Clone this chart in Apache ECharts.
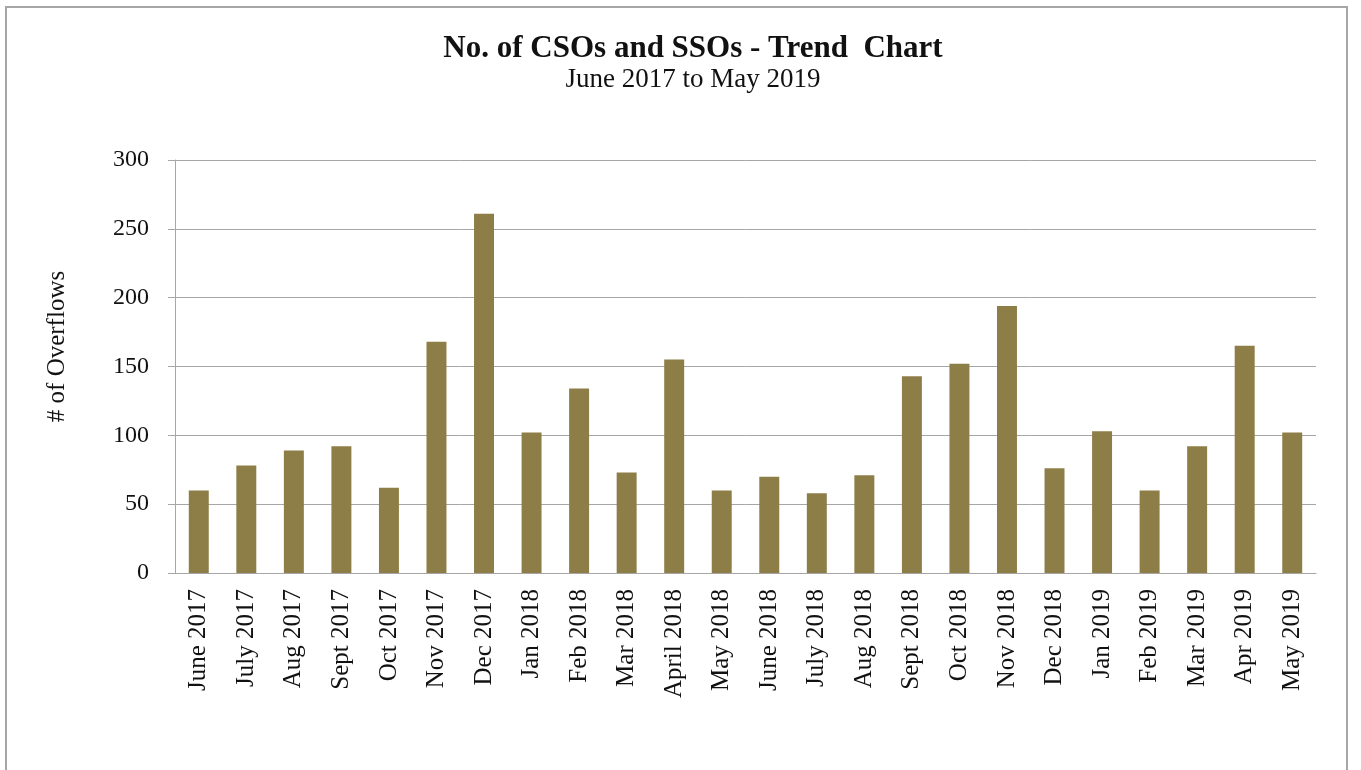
<!DOCTYPE html>
<html>
<head>
<meta charset="utf-8">
<script src="https://cdn.jsdelivr.net/npm/echarts@6/dist/echarts.min.js"></script>
<style>
  html, body { margin: 0; padding: 0; background: #fff; }
  .frame {
    position: absolute; left: 5px; top: 6px; width: 1343px; height: 800px;
    border: 2px solid #a6a6a6; border-bottom: none; box-sizing: border-box;
  }
  #chart { position: absolute; left: 0; top: 0; width: 1361px; height: 770px; }
</style>
</head>
<body>
<div class="frame"></div>
<div id="chart"></div>
<script>
// months on the x axis
var months = [
  "June 2017", "July 2017", "Aug 2017", "Sept 2017", "Oct 2017", "Nov 2017",
  "Dec 2017", "Jan 2018", "Feb 2018", "Mar 2018", "April 2018", "May 2018",
  "June 2018", "July 2018", "Aug 2018", "Sept 2018", "Oct 2018", "Nov 2018",
  "Dec 2018", "Jan 2019", "Feb 2019", "Mar 2019", "Apr 2019", "May 2019"
];
// number of overflows per month
var overflows = [
  60, 78, 89, 92, 62, 168,
  261, 102, 134, 73, 155, 60,
  70, 58, 71, 143, 152, 194,
  76, 103, 60, 92, 165, 102
];

var serif = "'Liberation Serif', 'Times New Roman', serif";
var chart = echarts.init(document.getElementById("chart"));
var option = {
  animation: false,
  title: {
    text: "No. of CSOs and SSOs - Trend  Chart",
    subtext: "June 2017 to May 2019",
    left: 688,
    textAlign: "center",
    top: 28,
    itemGap: 2,
    textStyle: { fontFamily: serif, fontSize: 31, fontWeight: "bold", color: "#111" },
    subtextStyle: { fontFamily: serif, fontSize: 27, color: "#111" }
  },
  grid: { left: 175, right: 45, top: 160, bottom: 197, containLabel: false },
  xAxis: {
    type: "category",
    data: months,
    axisLine: { lineStyle: { color: "#a6a6a6", width: 1 } },
    axisTick: { alignWithLabel: true, length: 5, lineStyle: { color: "#a6a6a6" } },
    axisLabel: {
      rotate: 90, interval: 0, margin: 16,
      fontFamily: serif, fontSize: 25, color: "#111"
    }
  },
  yAxis: {
    type: "value",
    min: 0, max: 300, interval: 50,
    name: "# of Overflows",
    nameLocation: "middle",
    nameGap: 105,
    nameRotate: 90,
    nameTextStyle: { fontFamily: serif, fontSize: 25, color: "#111", padding: [0, 0, 0, 40] },
    axisLine: { show: true, lineStyle: { color: "#a6a6a6" } },
    axisTick: { show: true, length: 7, lineStyle: { color: "#a6a6a6" } },
    axisLabel: { margin: 26, fontFamily: serif, fontSize: 24, color: "#111" },
    splitLine: { lineStyle: { color: "#a6a6a6", width: 1 } }
  },
  series: [{
    type: "bar",
    data: overflows,
    barWidth: "42%",
    itemStyle: { color: "#8c7e46" }
  }]
};
chart.setOption(option);
</script>
</body>
</html>
